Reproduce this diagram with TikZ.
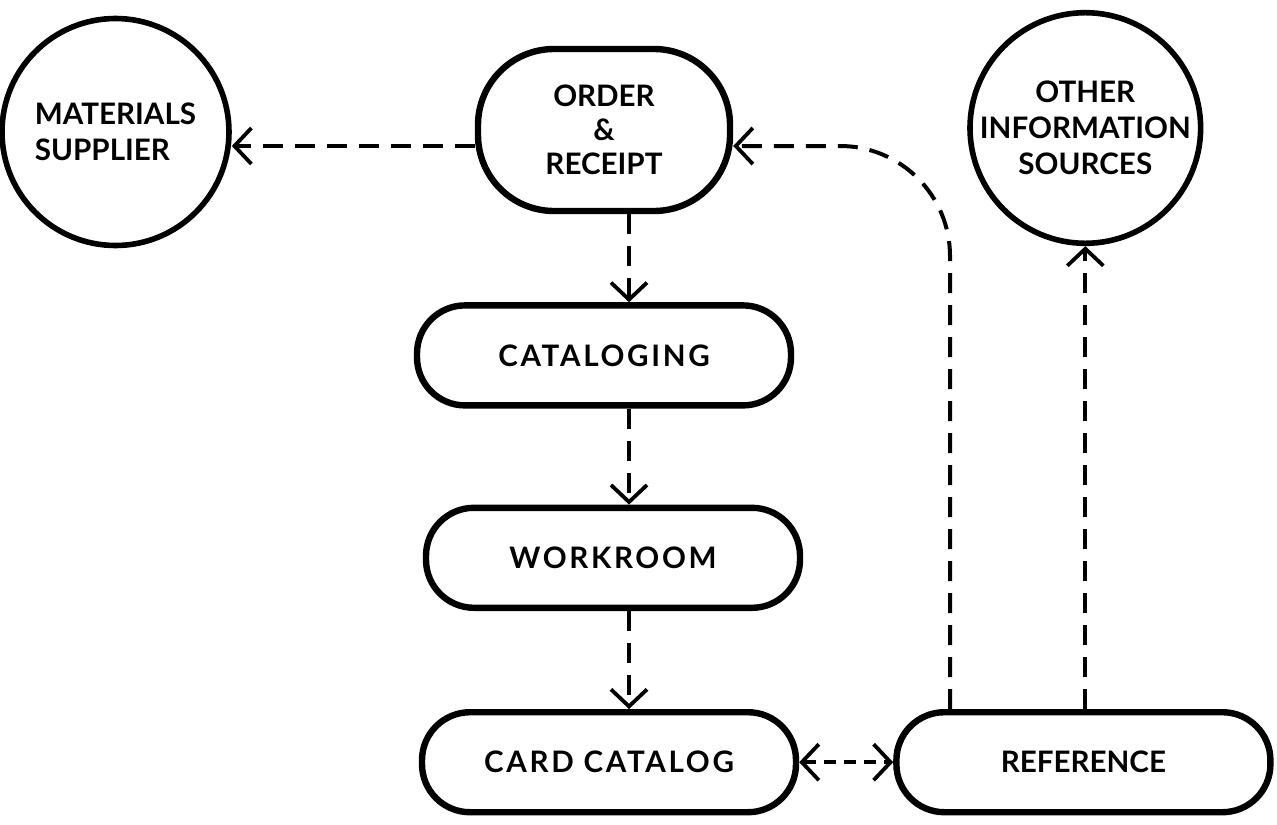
\documentclass[tikz,border=0pt]{standalone}
\usepackage{fontspec}
\setsansfont{Lato}
\newfontfamily\spacedfont{Lato}[LetterSpace=9]
\usetikzlibrary{arrows.meta, positioning}
\tikzset{
	pill/.style    ={rectangle, rounded corners=24pt, draw=black, line width=3.2pt, minimum width=187pt, minimum height=50pt, align=center, font=\sffamily\bfseries\fontsize{14.8}{17}\selectfont},
	bubble/.style  ={circle, draw=black, line width=2.8pt, minimum size=113.5pt, inner sep=0pt, font=\sffamily\bfseries\fontsize{14.8}{18}\selectfont},
	link/.style    ={->, dash pattern=on 10pt off 6pt, line width=2pt},
	shortlink/.style={<->, dash pattern=on 6pt off 4pt, line width=2pt},
}

\begin{document}
\begin{tikzpicture}[>={Straight Barb[length=8.5pt,width=18pt,line width=1.9pt]}]
	\useasboundingbox (0,0) rectangle (638.5pt,-412pt);
	% flow column
	\node[pill, rounded corners=38pt, minimum width=126pt, minimum height=81pt] (order) at (302pt,-65pt){ORDER\\\&\\RECEIPT};
	\node[pill, below=44pt of order] (cat){\spacedfont CATALOGING};
	\node[pill, below=48pt of cat, xshift=4.5pt] (work){\spacedfont WORKROOM};
	\node[pill, below=49pt of work, xshift=-2pt] (card){\spacedfont CARD CATALOG};
	\node[pill, right=47pt of card] (ref){REFERENCE};
	% outside sources
	\node[bubble, align=left, left=121.5pt of order, yshift=-1pt] (sup){MATERIALS\\SUPPLIER};
	\node[bubble, align=center, right=117pt of order, yshift=1pt] (other){OTHER\\INFORMATION\\SOURCES};
	\coordinate (spine) at (314.5pt,0);
	\coordinate (loop) at (475pt,0);
	\draw[link] ([yshift=-8pt]order.west) -- ([yshift=-8pt]order.west -| sup.east);
	\draw[link] (order.south -| spine) -- (cat.north -| spine);
	\draw[link] (cat.south -| spine) -- (work.north -| spine);
	\draw[link] (work.south -| spine) -- (card.north -| spine);
	\draw[shortlink] (card.east) -- (ref.west);
	\draw[link, rounded corners=55pt] (ref.north -| loop) |- ([yshift=-8pt]order.east);
	\draw[link] (other.south |- ref.north) -- (other.south);
\end{tikzpicture}
\end{document}
